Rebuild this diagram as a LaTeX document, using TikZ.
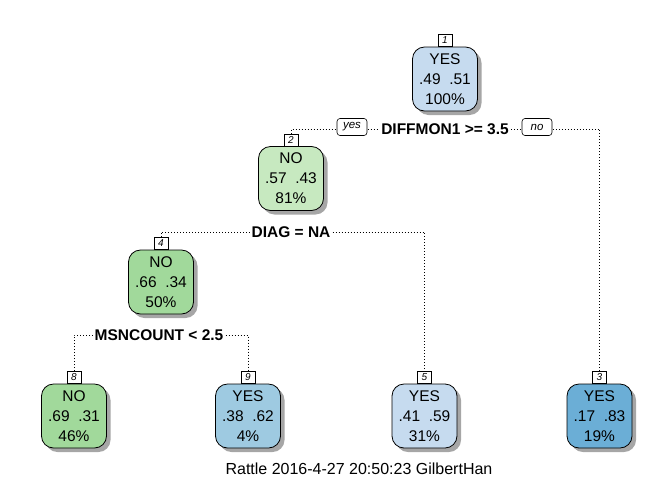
\documentclass[tikz,border=0pt]{standalone}
\usepackage{fontspec}
\setmainfont{Liberation Sans}
\usepackage{tikz}
\usetikzlibrary{shapes, shadows, positioning, backgrounds}

\definecolor{paleblue}{RGB}{198,219,239}
\definecolor{midblue}{RGB}{158,202,225}
\definecolor{deepblue}{RGB}{107,174,214}
\definecolor{palegreen}{RGB}{199,233,192}
\definecolor{midgreen}{RGB}{161,217,155}

\begin{document}
\begin{tikzpicture}[
      x=1pt, y=-1pt,
      every node/.style={font=\fontsize{15.5}{20}\selectfont},
      treebox/.style={draw, line width=0.8pt, rounded corners=12pt, minimum width=65pt, minimum height=64pt, inner sep=0pt, align=center,
        drop shadow={shadow xshift=4pt, shadow yshift=-4pt, fill=black!35, opacity=1}},
      nodenum/.style={draw, fill=white, line width=0.6pt, inner sep=0pt, minimum width=14pt, minimum height=12pt, font=\itshape\fontsize{10}{10}\selectfont},
      splitlabel/.style={fill=white, inner sep=2pt, font=\bfseries\fontsize{15.5}{15.5}\selectfont},
      yesno/.style={draw, fill=white, line width=0.6pt, rounded corners=3pt, inner sep=0pt, minimum width=30pt, minimum height=17pt, font=\itshape\fontsize{11.5}{11.5}\selectfont},
      branch/.style={line width=0.8pt, dash pattern=on 0.8pt off 2.2pt}
    ]
    \useasboundingbox (0,0) rectangle (672,480);

    % root and inner nodes
    \node[treebox, fill=paleblue] (N1) at (445,79) {YES\\.49\ \ .51\\100\%};
    \node[nodenum, above=0pt of N1] (N1num) {1};
    \node[treebox, fill=palegreen] (N2) at (291,178.5) {NO\\.57\ \ .43\\81\%};
    \node[nodenum, above=0pt of N2] (N2num) {2};
    \node[treebox, fill=midgreen] (N4) at (161,282) {NO\\.66\ \ .34\\50\%};
    \node[nodenum, above=0pt of N4] (N4num) {4};

    % leaves
    \node[treebox, fill=midgreen] (N8) at (74,416) {NO\\.69\ \ .31\\46\%};
    \node[nodenum, above=0pt of N8] (N8num) {8};
    \node[treebox, fill=midblue] (N9) at (248,416) {YES\\.38\ \ .62\\4\%};
    \node[nodenum, above=0pt of N9] (N9num) {9};
    \node[treebox, fill=paleblue] (N5) at (424.5,416) {YES\\.41\ \ .59\\31\%};
    \node[nodenum, above=0pt of N5] (N5num) {5};
    \node[treebox, fill=deepblue] (N3) at (599.5,416) {YES\\.17\ \ .83\\19\%};
    \node[nodenum, above=0pt of N3] (N3num) {3};

    % split labels
    \node[splitlabel] (S1) at (445,129) {DIFFMON1 >= 3.5};
    \node[yesno] (S1yes) at (352,127) {yes};
    \node[yesno] (S1no) at (537,127) {no};
    \node[splitlabel] (S2) at (291,232) {DIAG = NA};
    \node[splitlabel] (S3) at (159,335) {MSNCOUNT < 2.5};

    % dotted branches behind everything
    \begin{scope}[on background layer]
      \draw[branch] (N2num.north) |- (S1) -| (N3num.north);
      \draw[branch] (N4num.north) |- (S2) -| (N5num.north);
      \draw[branch] (N8num.north) |- (S3) -| (N9num.north);
    \end{scope}

    \node[font=\fontsize{16}{16}\selectfont] (caption) at (359,469) {Rattle 2016-4-27 20:50:23 GilbertHan};
  \end{tikzpicture}
\end{document}
